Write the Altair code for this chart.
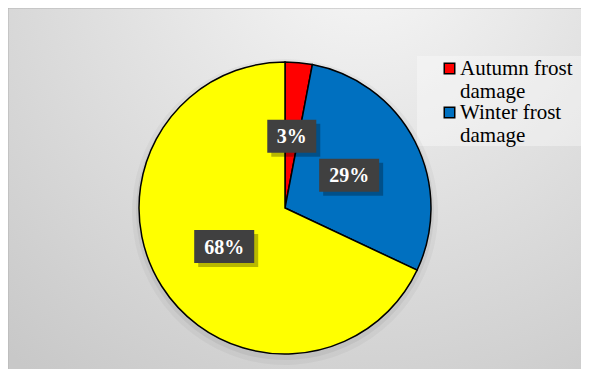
import altair as alt
import pandas as pd

categories = ["Autumn frost damage", "Winter frost damage", "Spring frost damage"]
values = [3, 29, 68]
labels = ["3%", "29%", "68%"]
colors = ["#ff0000", "#0070c0", "#ffff00"]
legend_shown = ["Autumn frost damage", "Winter frost damage"]

W, H = 573, 361
CX, CY, R, LR = 277, 200, 146, 72

df = pd.DataFrame({"category": categories, "value": values,
                   "label": labels, "order": list(range(len(categories)))})
one = pd.DataFrame({"k": [0]})

bg = alt.Chart(one).mark_rect(
    color=alt.RadialGradient(
        gradient="radial", x1=0.62, y1=0.05, r1=0.0, x2=0.62, y2=0.05, r2=0.95,
        stops=[alt.GradientStop(offset=0, color="#f8f8f8"),
               alt.GradientStop(offset=0.45, color="#e2e2e2"),
               alt.GradientStop(offset=1, color="#c8c8c8")]),
    stroke="#b4b4b4", strokeWidth=1,
).encode(x=alt.value(0), x2=alt.value(W + 2), y=alt.value(0), y2=alt.value(H + 20))

legbox = alt.Chart(one).mark_rect(color="white", opacity=0.35).encode(
    x=alt.value(409), x2=alt.value(W + 2), y=alt.value(48), y2=alt.value(138))

shadow1 = alt.Chart(df).mark_arc(radius=R + 7, color="black", opacity=0.035).encode(
    theta=alt.Theta("value:Q", stack=True), order=alt.Order("order:Q"),
    x=alt.value(CX), y=alt.value(CY + 4))
shadow2 = alt.Chart(df).mark_arc(radius=R + 3, color="black", opacity=0.05).encode(
    theta=alt.Theta("value:Q", stack=True), order=alt.Order("order:Q"),
    x=alt.value(CX), y=alt.value(CY + 3))

pie = alt.Chart(df).mark_arc(radius=R, stroke="black", strokeWidth=1.5).encode(
    theta=alt.Theta("value:Q", stack=True),
    order=alt.Order("order:Q"),
    color=alt.Color("category:N",
                    scale=alt.Scale(domain=categories, range=colors),
                    legend=alt.Legend(
                        title=None, orient="none", legendX=431, legendY=50,
                        values=legend_shown, symbolType="square", symbolSize=110,
                        symbolStrokeColor="black", symbolStrokeWidth=1.5,
                        labelFont="Liberation Serif", labelFontSize=21,
                        labelColor="black", labelOffset=0, labelLimit=300,
                        labelBaseline="middle",
                        rowPadding=-7, padding=0,
                        labelExpr="[slice(datum.label, 0, indexof(datum.label, ' damage')), 'damage']",
                    )),
    x=alt.value(CX), y=alt.value(CY),
)

pos = alt.Chart(df).transform_joinaggregate(
    total="sum(value)"
).transform_window(
    cum="sum(value)", sort=[alt.SortField("order")]
).transform_calculate(
    mid="(datum.cum - datum.value / 2) / datum.total * 2 * PI",
).transform_calculate(
    px=f"{CX} + {LR} * sin(datum.mid)",
    py=f"{CY} - {LR} * cos(datum.mid)",
    bw="27 + 11 * length(datum.label)",
).transform_calculate(
    bx1="datum.px - datum.bw / 2", bx2="datum.px + datum.bw / 2",
    by1="datum.py - 16.5", by2="datum.py + 16.5",
    sx1="datum.px - datum.bw / 2 + 4", sx2="datum.px + datum.bw / 2 + 4",
    sy1="datum.py - 16.5 + 4", sy2="datum.py + 16.5 + 4",
)

box_shadow = pos.mark_rect(color="black", opacity=0.28).encode(
    x=alt.X("sx1:Q", scale=None), x2="sx2:Q",
    y=alt.Y("sy1:Q", scale=None), y2="sy2:Q")
box = pos.mark_rect(color="#404040").encode(
    x=alt.X("bx1:Q", scale=None), x2="bx2:Q",
    y=alt.Y("by1:Q", scale=None), y2="by2:Q")
txt = pos.mark_text(font="Liberation Serif", fontSize=20, fontWeight="bold",
                    color="white", baseline="middle", align="center", dy=1).encode(
    x=alt.X("px:Q", scale=None), y=alt.Y("py:Q", scale=None), text="label:N")

chart = alt.layer(bg, legbox, shadow1, shadow2, pie, box_shadow, box, txt).properties(
    width=W, height=H, padding=0,
    autosize=alt.AutoSizeParams(type="none"),
).configure_view(stroke=None).resolve_scale(x="independent", y="independent")

chart.save("out.html", embed_options={"renderer": "svg", "actions": False})
